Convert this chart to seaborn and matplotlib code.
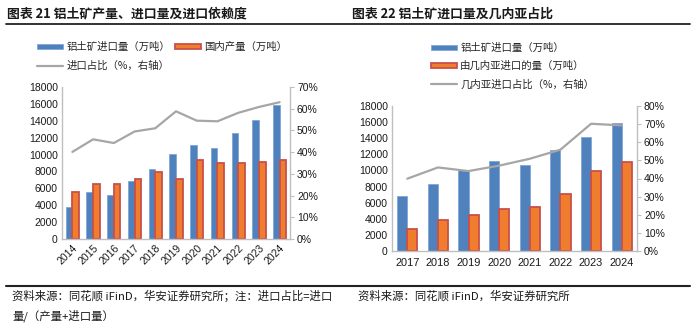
import numpy as np
import pandas as pd
import matplotlib
matplotlib.use("Agg")
import matplotlib.pyplot as plt
from matplotlib.patches import Patch
from matplotlib.lines import Line2D
from matplotlib.ticker import FuncFormatter, MultipleLocator
import seaborn as sns

# ---- data: figure 21 ----
years_a = ["2014", "2015", "2016", "2017", "2018", "2019", "2020", "2021", "2022", "2023", "2024"]
imports_a = [3750, 5560, 5200, 6860, 8280, 10100, 11160, 10730, 12540, 14120, 15900]
domestic_a = [5520, 6550, 6510, 7060, 7930, 7060, 9310, 9030, 9030, 9150, 9350]
import_share_a = [40.1, 45.9, 44.2, 49.5, 51.0, 58.8, 54.5, 54.2, 58.1, 60.8, 63.0]

# ---- data: figure 22 ----
years_b = ["2017", "2018", "2019", "2020", "2021", "2022", "2023", "2024"]
imports_b = [6870, 8280, 10060, 11180, 10720, 12590, 14160, 15940]
guinea_b = [2770, 3810, 4470, 5260, 5470, 7040, 9980, 11100]
guinea_share_b = [39.9, 46.1, 44.1, 47.1, 50.9, 55.9, 70.2, 69.3]

lbl_imp = "铝土矿进口量（万吨）"
lbl_dom = "国内产量（万吨）"
lbl_share_a = "进口占比（%，右轴）"
lbl_gn = "由几内亚进口的量（万吨）"
lbl_share_b = "几内亚进口占比（%，右轴）"

sns.set_theme(style="white")
plt.rcParams["font.family"] = ["Liberation Sans", "Noto Sans CJK SC", "DejaVu Sans"]
cjk = ["Noto Sans CJK SC", "DejaVu Sans"]

BLUE = "#4F81BD"
BLUE_EDGE = "#7FA6D6"
ORANGE = "#F07D2E"
RED_EDGE = "#C8504D"
GREY = "#A6A6A6"
AXIS = "#BFBFBF"
TXT = "#1a1a1a"

fig = plt.figure(figsize=(7.0, 3.31), dpi=100)


def bars_with_share(ax, years, s1, s2, n1, n2, share, ymax_pct, width, rot):
    df = pd.DataFrame({
        "year": years * 2,
        "value": list(s1) + list(s2),
        "series": [n1] * len(years) + [n2] * len(years),
    })
    sns.barplot(data=df, x="year", y="value", hue="series", order=years,
                hue_order=[n1, n2], palette=[BLUE, ORANGE], width=width,
                gap=0, saturation=1, legend=False, ax=ax, errorbar=None)
    for bar in ax.containers[0]:
        bar.set_edgecolor(BLUE_EDGE)
        bar.set_linewidth(0.6)
    for bar in ax.containers[1]:
        bar.set_edgecolor(RED_EDGE)
        bar.set_linewidth(1.3)
    ax.set_xlim(-0.5, len(years) - 0.5)
    ax.set_ylim(0, 18000)
    ax.yaxis.set_major_locator(MultipleLocator(2000))
    ax.set_xlabel("")
    ax.set_ylabel("")
    for side in ("top", "right"):
        ax.spines[side].set_visible(False)
    for side in ("left", "bottom"):
        ax.spines[side].set_color(AXIS)
        ax.spines[side].set_linewidth(1.0)
    ax.tick_params(axis="both", length=0, labelsize=7.5, colors=TXT, pad=3)
    if rot:
        for t in ax.get_xticklabels():
            t.set_rotation(45)
            t.set_ha("right")
            t.set_rotation_mode("anchor")

    ax2 = ax.twinx()
    sns.lineplot(x=np.arange(len(years)), y=share, color=GREY, linewidth=1.6,
                 ax=ax2, legend=False)
    ax2.set_ylim(0, ymax_pct)
    ax2.yaxis.set_major_locator(MultipleLocator(10))
    ax2.yaxis.set_major_formatter(FuncFormatter(lambda v, p: f"{v:.0f}%"))
    ax2.set_ylabel("")
    for side in ("top", "left", "bottom"):
        ax2.spines[side].set_visible(False)
    ax2.spines["right"].set_color(AXIS)
    ax2.spines["right"].set_linewidth(1.0)
    ax2.tick_params(axis="y", length=3, width=0.8, labelsize=7.5,
                    colors=TXT, pad=2)
    ax2.tick_params(axis="y", color=AXIS)
    ax2.set_xlim(-0.5, len(years) - 0.5)
    return ax2


axL = fig.add_axes([62 / 700, (331 - 239) / 331, 228 / 700, 152 / 331])
bars_with_share(axL, years_a, imports_a, domestic_a, lbl_imp, lbl_dom,
                import_share_a, 70, 0.64, True)

axR = fig.add_axes([392 / 700, (331 - 251) / 331, 245 / 700, 145 / 331])
bars_with_share(axR, years_b, imports_b, guinea_b, lbl_imp, lbl_gn,
                guinea_share_b, 80, 0.66, False)
axR.tick_params(axis="x", labelsize=7.9, pad=5)

# ---- legends ----
h_imp = Patch(facecolor=BLUE, edgecolor=BLUE_EDGE, linewidth=0.6)
h_dom = Patch(facecolor=ORANGE, edgecolor=RED_EDGE, linewidth=1.3)
h_line = Line2D([], [], color=GREY, linewidth=1.6)

leg_kw = dict(frameon=False, handlelength=2.5, handleheight=0.45,
              handletextpad=0.3, prop={"family": cjk, "size": 7.5},
              borderaxespad=0, borderpad=0)
fig.legend([h_imp, h_line, h_dom], [lbl_imp, lbl_share_a, lbl_dom], ncol=2,
           loc="upper left", bbox_to_anchor=(37 / 700, 1 - 42 / 331),
           columnspacing=0.5, labelspacing=0.85, **leg_kw)
fig.legend([h_imp, h_dom, h_line], [lbl_imp, lbl_gn, lbl_share_b], ncol=1,
           loc="upper left", bbox_to_anchor=(431 / 700, 1 - 43 / 331),
           labelspacing=0.75, **leg_kw)

# ---- titles and rules ----
fig.text(7 / 700, 1 - 13 / 331, "图表 21 铝土矿产量、进口量及进口依赖度",
         family=cjk, fontsize=9.3, fontweight="bold", va="center", color=TXT)
fig.text(352 / 700, 1 - 13 / 331, "图表 22 铝土矿进口量及几内亚占比",
         family=cjk, fontsize=9.3, fontweight="bold", va="center", color=TXT)
fig.add_artist(Line2D([6 / 700, 690 / 700], [1 - 24 / 331] * 2, color="#222222",
                      linewidth=1.3, transform=fig.transFigure))
fig.add_artist(Line2D([6 / 700, 690 / 700], [1 - 286 / 331] * 2, color="#222222",
                      linewidth=1.5, transform=fig.transFigure))

# ---- footnotes ----
fig.text(12 / 700, 1 - 296 / 331, "资料来源：同花顺 iFinD，华安证券研究所；注：进口占比=进口",
         family=cjk, fontsize=8.2, va="center", color=TXT)
fig.text(12 / 700, 1 - 316 / 331, "量/（产量+进口量）",
         family=cjk, fontsize=8.2, va="center", color=TXT)
fig.text(358 / 700, 1 - 296 / 331, "资料来源：同花顺 iFinD，华安证券研究所",
         family=cjk, fontsize=8.2, va="center", color=TXT)

fig.savefig("out.png", dpi=100)
